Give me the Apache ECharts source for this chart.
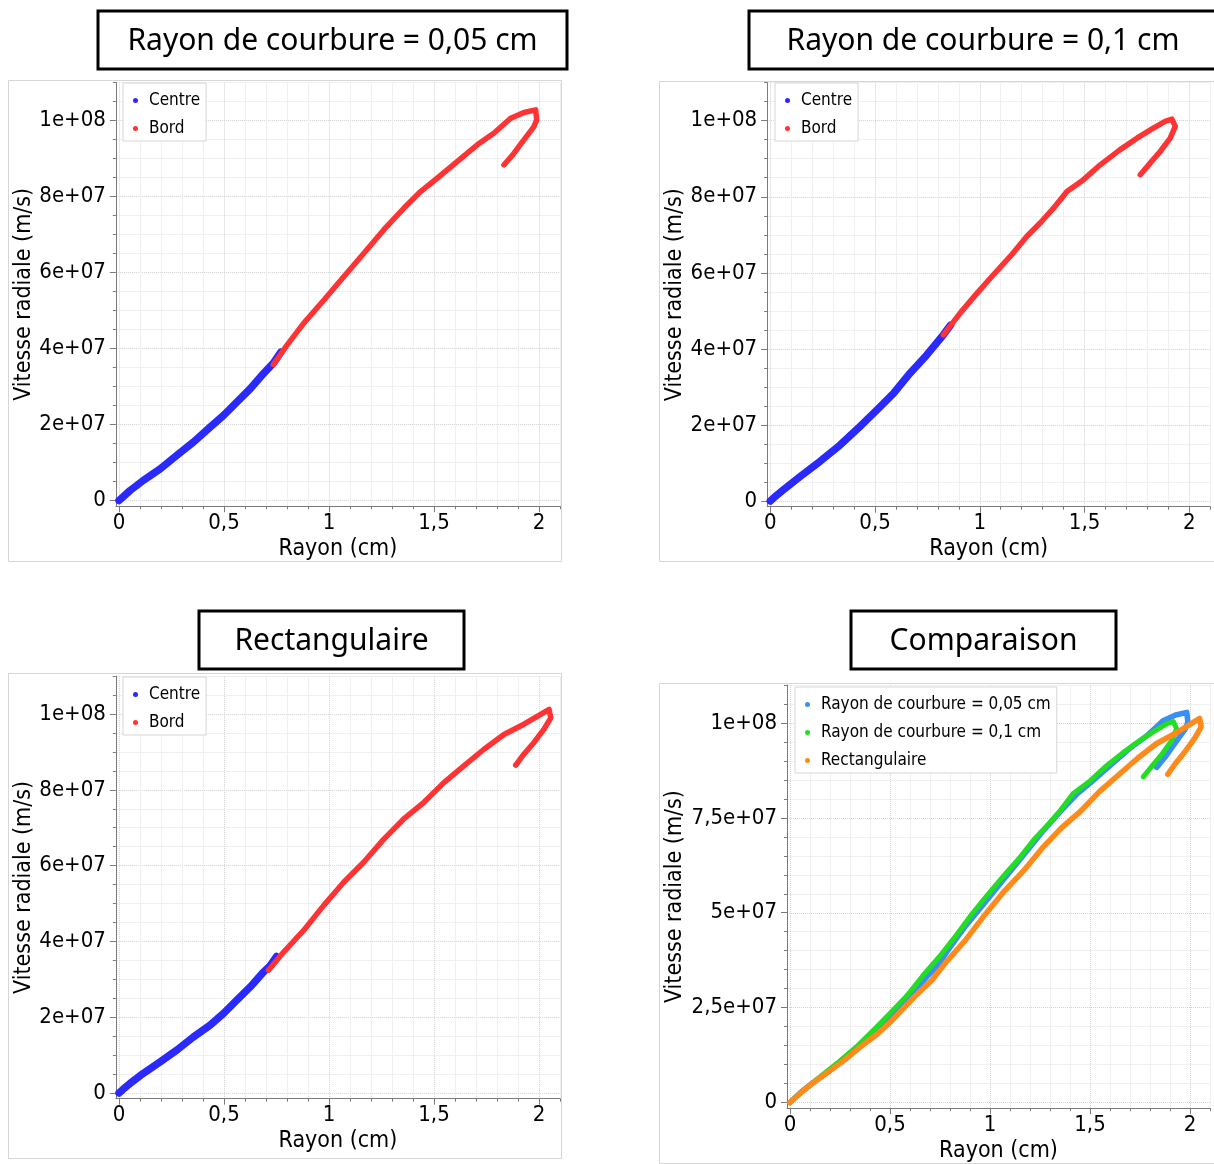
<!DOCTYPE html>
<html><head><meta charset="utf-8">
<script src="https://cdn.jsdelivr.net/npm/echarts@6/dist/echarts.min.js"></script>
<style>html,body{margin:0;padding:0;background:#fff}#c{width:1214px;height:1164px}</style>
</head><body><div id="c"></div>
<script>
const FONT = "'DejaVu Sans Condensed','DejaVu Sans',sans-serif";
const TITLE_FONT = "'Noto Sans','Open Sans',sans-serif";

const panelTitles = ['Rayon de courbure = 0,05 cm', 'Rayon de courbure = 0,1 cm', 'Rectangulaire', 'Comparaison'];
const xTickValues = [0, 0.5, 1, 1.5, 2];
const xTickLabels = ['0', '0,5', '1', '1,5', '2'];
const yTickValues = [0, 2e7, 4e7, 6e7, 8e7, 1e8];
const yTickLabels = ['0', '2e+07', '4e+07', '6e+07', '8e+07', '1e+08'];
const yTickValuesCmp = [0, 2.5e7, 5e7, 7.5e7, 1e8];
const yTickLabelsCmp = ['0', '2,5e+07', '5e+07', '7,5e+07', '1e+08'];
const xAxisName = 'Rayon (cm)';
const yAxisName = 'Vitesse radiale (m/s)';
const seriesNames = ['Centre', 'Bord'];
const compareNames = ['Rayon de courbure = 0,05 cm', 'Rayon de courbure = 0,1 cm', 'Rectangulaire'];

// [rayon (cm), vitesse radiale (m/s)]
const centre005 = [[0,0],[0.02,0.1e7],[0.052,0.26e7],[0.116,0.53e7],[0.196,0.83e7],[0.275,1.19e7],[0.355,1.54e7],[0.434,1.93e7],[0.498,2.24e7],[0.561,2.59e7],[0.625,2.94e7],[0.688,3.34e7],[0.736,3.62e7],[0.77,3.9e7]];
const bord005 = [[0.735,3.58e7],[0.80,4.09e7],[0.879,4.66e7],[0.975,5.27e7],[1.07,5.89e7],[1.165,6.50e7],[1.26,7.12e7],[1.356,7.69e7],[1.436,8.13e7],[1.515,8.48e7],[1.61,8.92e7],[1.706,9.36e7],[1.786,9.67e7],[1.865,10.06e7],[1.928,10.21e7],[1.984,10.28e7],[1.989,10.02e7],[1.976,9.84e7],[1.928,9.49e7],[1.881,9.14e7],[1.833,8.83e7]];
const centre01 = [[0,0],[0.02,0.1e7],[0.062,0.29e7],[0.142,0.64e7],[0.237,1.04e7],[0.333,1.47e7],[0.428,1.96e7],[0.508,2.39e7],[0.588,2.83e7],[0.667,3.36e7],[0.747,3.84e7],[0.826,4.37e7],[0.86,4.62e7]];
const bord01 = [[0.826,4.37e7],[0.906,4.94e7],[0.986,5.46e7],[1.065,5.95e7],[1.145,6.43e7],[1.225,6.96e7],[1.288,7.31e7],[1.352,7.70e7],[1.416,8.14e7],[1.495,8.45e7],[1.575,8.84e7],[1.67,9.24e7],[1.75,9.54e7],[1.83,9.81e7],[1.885,9.98e7],[1.917,10.04e7],[1.933,9.85e7],[1.909,9.54e7],[1.861,9.19e7],[1.814,8.89e7],[1.766,8.58e7]];
const centreRect = [[0,0],[0.02,0.1e7],[0.052,0.25e7],[0.116,0.52e7],[0.196,0.82e7],[0.275,1.13e7],[0.355,1.48e7],[0.434,1.79e7],[0.498,2.10e7],[0.561,2.45e7],[0.625,2.80e7],[0.688,3.19e7],[0.72,3.36e7],[0.75,3.6e7]];
const bordRect = [[0.712,3.24e7],[0.784,3.72e7],[0.879,4.29e7],[0.975,4.95e7],[1.07,5.56e7],[1.165,6.09e7],[1.261,6.70e7],[1.356,7.23e7],[1.452,7.67e7],[1.547,8.19e7],[1.642,8.63e7],[1.738,9.07e7],[1.833,9.46e7],[1.928,9.73e7],[2.008,9.99e7],[2.048,10.12e7],[2.056,9.90e7],[2.024,9.60e7],[1.976,9.25e7],[1.928,8.94e7],[1.889,8.65e7]];

const COL_CENTRE = '#2a2aff', COL_BORD = '#ff3333';
const COL_CMP = ['#3b8ff0', '#22dd22', '#ff8a1c'];

const XMIN = -0.015, XMAX = 2.1, YMIN = -1.5e6, YMAX = 1.1e8;
const layout = [
  {x0:119, kx:210, y0:500.5, ky:380, legend:[123,83], frame:[8.5,80.5,553,481], title:[98,11,469,58], yGap:80},
  {x0:770.3, kx:209.5, y0:501, ky:380.3, legend:[775,83], frame:[659.5,81.5,560,480], title:[749,11,480,58], yGap:80},
  {x0:119, kx:210, y0:1093, ky:379, legend:[123,677], frame:[8.5,673.5,553,485], title:[199,611,265,58], yGap:80},
  {x0:790, kx:200, y0:1102.5, ky:379.5, legend:[795,687], frame:[659.5,683.5,560,480], title:[851,611,265,58], yGap:100}
];

function range(a, b, s) { const r = []; for (let i = 0; a + i * s <= b + s * 1e-6; i++) r.push(+(a + i * s).toFixed(8)); return r; }
function minorOf(all, majors) { return all.filter(v => !majors.some(m => Math.abs(m - v) < 1e-9 * Math.max(1, Math.abs(m)))); }
function lab(vals, labs, v) { for (let i = 0; i < vals.length; i++) if (Math.abs(vals[i] - v) <= 1e-6 * Math.max(1, Math.abs(vals[i]))) return labs[i]; return ''; }

const xMinor = minorOf(range(0, 2.1, 0.1), xTickValues);
const yMinor = minorOf(range(0, 1.1e8, 5e6), yTickValues);
const yMinorCmp = minorOf(range(0, 1.1e8, 5e6), yTickValuesCmp);

const AX = '#7a7a7a';
const grids = [], xAxes = [], yAxes = [], series = [], legends = [], graphics = [];

layout.forEach((L, gi) => {
  const left = L.x0 + L.kx * XMIN, width = L.kx * (XMAX - XMIN);
  const top = L.y0 - L.ky * YMAX / 1e8, height = L.ky * (YMAX - YMIN) / 1e8;
  grids.push({left, top, width, height, containLabel:false});
  const yv = gi === 3 ? yTickValuesCmp : yTickValues;
  const yl = gi === 3 ? yTickLabelsCmp : yTickLabels;
  const ym = gi === 3 ? yMinorCmp : yMinor;
  [true, false].forEach(major => {
    xAxes.push({
      type:'value', gridIndex:gi, min:XMIN, max:XMAX, position:'bottom',
      axisLine:{show:major, onZero:false, lineStyle:{color:AX, width:1}},
      axisTick:{show:true, customValues: major ? xTickValues : xMinor, length: major ? 6 : 3, lineStyle:{color:AX}},
      axisLabel:{show:major, customValues:xTickValues, formatter:v => lab(xTickValues, xTickLabels, v), margin:6, fontSize:22, color:'#000', fontFamily:FONT},
      splitLine:{show:true, lineStyle: major ? {color:'#d2d2d2', type:'dotted', width:1} : {color:'#f0f0f0', width:1}},
      name: major ? xAxisName : '', nameLocation:'middle', nameGap:31,
      nameTextStyle:{fontSize:23, color:'#000', fontFamily:FONT}
    });
    yAxes.push({
      type:'value', gridIndex:gi, min:YMIN, max:YMAX, position:'left',
      axisLine:{show:major, onZero:false, lineStyle:{color:AX, width:1}},
      axisTick:{show:true, customValues: major ? yv : ym, length: major ? 6 : 3, lineStyle:{color:AX}},
      axisLabel:{show:major, customValues:yv, formatter:v => lab(yv, yl, v), margin:10, fontSize:22, color:'#000', fontFamily:FONT},
      splitLine:{show:true, lineStyle: major ? {color:'#d2d2d2', type:'dotted', width:1} : {color:'#f0f0f0', width:1}},
      name: major ? yAxisName : '', nameLocation:'middle', nameGap:L.yGap,
      nameTextStyle:{fontSize:23, color:'#000', fontFamily:FONT}
    });
  });
  legends.push({
    orient:'vertical', left:L.legend[0], top:L.legend[1],
    data: gi === 3 ? compareNames : seriesNames,
    icon:'circle', itemWidth:5, itemHeight:14, itemGap:11, itemTextGap:11,
    backgroundColor:'#fff', borderColor:'#d6d6d6', borderWidth:1, borderRadius:0,
    padding:[9, 6, 4, 10],
    textStyle:{fontSize:17, lineHeight:17, color:'#000', fontFamily:FONT, padding:[0, 0, 0, 6]},
    selectedMode:false
  });
  graphics.push({type:'rect', silent:true, z:-10, shape:{x:L.frame[0], y:L.frame[1], width:L.frame[2], height:L.frame[3]}, style:{fill:null, stroke:'#d6d6d6', lineWidth:1}});
  const T = L.title;
  graphics.push({type:'rect', silent:true, z:10, shape:{x:T[0], y:T[1], width:T[2], height:T[3]}, style:{fill:'#fff', stroke:'#000', lineWidth:3}});
  const cx = gi === 1 ? 983 : T[0] + T[2] / 2;
  graphics.push({type:'text', silent:true, z:11, x:cx, y:T[1] + T[3] / 2 + 1, style:{text:panelTitles[gi], fill:'#000', fontSize:30, fontFamily:TITLE_FONT, align:'center', verticalAlign:'middle'}});
});

function mkLine(name, data, color, gi, width) {
  return {type:'line', name, data, xAxisIndex:2 * gi, yAxisIndex:2 * gi, symbol:'none', showSymbol:false,
    color, itemStyle:{color}, lineStyle:{color, width, cap:'round', join:'round'}, clip:false, animation:false, z:3};
}
// comparison panel: centre run up to just before the edge run starts, then the edge run
function joinRuns(centre, bord) { return centre.filter(p => p[0] < bord[0][0] - 0.03).concat(bord); }
series.push(mkLine('Centre', centre005, COL_CENTRE, 0, 7.5));
series.push(mkLine('Bord', bord005, COL_BORD, 0, 5.5));
series.push(mkLine('Centre', centre01, COL_CENTRE, 1, 7.5));
series.push(mkLine('Bord', bord01, COL_BORD, 1, 5.5));
series.push(mkLine('Centre', centreRect, COL_CENTRE, 2, 7.5));
series.push(mkLine('Bord', bordRect, COL_BORD, 2, 5.5));
series.push(mkLine(compareNames[0], joinRuns(centre005, bord005), COL_CMP[0], 3, 5.5));
series.push(mkLine(compareNames[1], joinRuns(centre01, bord01), COL_CMP[1], 3, 5));
series.push(mkLine(compareNames[2], joinRuns(centreRect, bordRect), COL_CMP[2], 3, 5.5));

const chart = echarts.init(document.getElementById('c'), null, {renderer:'canvas'});
chart.setOption({
  animation:false,
  backgroundColor:'#fff',
  grid:grids, xAxis:xAxes, yAxis:yAxes, legend:legends, series, graphic:graphics
});
</script></body></html>
